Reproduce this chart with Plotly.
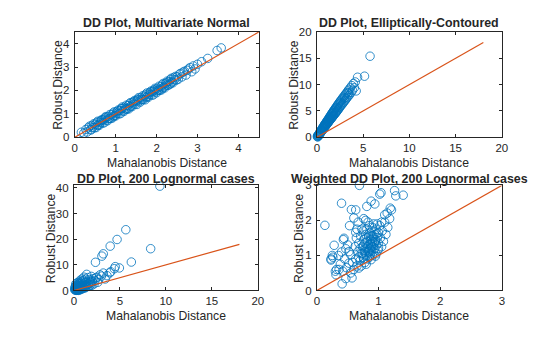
import plotly.graph_objects as go

# ---- Multivariate normal sample: Mahalanobis vs robust distance ----
md1 = [0.16, 0.22, 0.27, 0.30, 0.33, 0.36, 0.38, 0.40, 0.42, 0.44,
       0.46, 0.48, 0.50, 0.52, 0.54, 0.56, 0.58, 0.60, 0.62, 0.64,
       0.66, 0.68, 0.70, 0.72, 0.74, 0.76, 0.78, 0.80, 0.82, 0.84,
       0.86, 0.88, 0.90, 0.92, 0.94, 0.96, 0.98, 1.00, 1.02, 1.04,
       1.06, 1.08, 1.10, 1.12, 1.14, 1.16, 1.18, 1.20, 1.22, 1.24,
       1.26, 1.28, 1.30, 1.32, 1.34, 1.36, 1.38, 1.40, 1.42, 1.44,
       1.46, 1.48, 1.50, 1.52, 1.54, 1.56, 1.58, 1.60, 1.62, 1.64,
       1.66, 1.68, 1.70, 1.72, 1.74, 1.76, 1.78, 1.80, 1.82, 1.84,
       1.86, 1.88, 1.90, 1.92, 1.94, 1.96, 1.98, 2.00, 2.02, 2.04,
       2.06, 2.08, 2.10, 2.12, 2.14, 2.16, 2.18, 2.20, 2.22, 2.24,
       2.26, 2.28, 2.30, 2.32, 2.34, 2.36, 2.38, 2.40, 2.42, 2.44,
       2.46, 2.48, 2.50, 2.53, 2.56, 2.59, 2.62, 2.65, 2.68, 2.72,
       2.75, 2.78, 2.82, 2.86, 2.90, 2.94, 3.00, 3.10, 3.25, 3.48,
       3.58, 0.55, 0.75, 0.95, 1.15, 1.35, 1.55, 1.75, 1.95, 2.15,
       2.35, 0.65, 0.85, 1.05, 1.25, 1.45, 1.65, 1.85, 2.05, 2.25]
rd1 = [0.21, 0.17, 0.33, 0.22, 0.40, 0.47, 0.32, 0.31, 0.50, 0.41,
       0.57, 0.40, 0.55, 0.41, 0.63, 0.68, 0.53, 0.51, 0.69, 0.62,
       0.75, 0.60, 0.74, 0.62, 0.84, 0.88, 0.73, 0.70, 0.89, 0.81,
       0.97, 0.80, 0.95, 0.82, 1.03, 1.08, 0.93, 0.91, 1.08, 1.02,
       1.16, 1.00, 1.14, 1.01, 1.23, 1.29, 1.13, 1.10, 1.29, 1.22,
       1.37, 1.20, 1.35, 1.21, 1.43, 1.48, 1.34, 1.31, 1.50, 1.42,
       1.57, 1.41, 1.54, 1.40, 1.63, 1.69, 1.55, 1.50, 1.70, 1.63,
       1.77, 1.61, 1.75, 1.60, 1.83, 1.89, 1.75, 1.71, 1.89, 1.82,
       1.97, 1.80, 1.95, 1.81, 2.03, 2.09, 1.94, 1.90, 2.10, 2.03,
       2.18, 2.01, 2.15, 2.02, 2.24, 2.30, 2.15, 2.11, 2.31, 2.23,
       2.40, 2.22, 2.38, 2.25, 2.47, 2.52, 2.37, 2.33, 2.55, 2.46,
       2.60, 2.44, 2.58, 2.48, 2.70, 2.73, 2.58, 2.78, 2.82, 2.66,
       2.86, 2.92, 2.98, 2.80, 3.05, 2.92, 3.12, 3.23, 3.37, 3.71,
       3.82, 0.50, 0.81, 0.90, 1.22, 1.30, 1.60, 1.71, 2.00, 2.10,
       2.30, 0.71, 0.80, 1.12, 1.20, 1.52, 1.60, 1.93, 2.00, 2.33]

# ---- Elliptically-contoured sample ----
md2 = [0.05, 0.08, 0.10, 0.12, 0.15, 0.18, 0.20, 0.22, 0.25, 0.28,
       0.30, 0.32, 0.35, 0.38, 0.40, 0.42, 0.45, 0.48, 0.50, 0.52,
       0.55, 0.58, 0.60, 0.62, 0.65, 0.68, 0.70, 0.72, 0.75, 0.78,
       0.80, 0.82, 0.85, 0.88, 0.90, 0.92, 0.95, 0.98, 1.00, 1.02,
       1.05, 1.08, 1.10, 1.12, 1.15, 1.18, 1.20, 1.22, 1.25, 1.28,
       1.30, 1.32, 1.35, 1.38, 1.40, 1.42, 1.45, 1.48, 1.50, 1.52,
       1.55, 1.58, 1.60, 1.62, 1.65, 1.68, 1.70, 1.72, 1.75, 1.78,
       1.80, 1.83, 1.86, 1.90, 1.93, 1.96, 2.00, 2.03, 2.06, 2.10,
       2.13, 2.16, 2.20, 2.24, 2.28, 2.32, 2.36, 2.40, 2.44, 2.48,
       2.52, 2.56, 2.60, 2.65, 2.70, 2.75, 2.80, 2.85, 2.90, 2.95,
       3.00, 3.05, 3.10, 3.15, 3.20, 3.25, 3.30, 3.36, 3.42, 3.48,
       3.55, 3.62, 3.70, 3.78, 3.85, 3.95, 4.05, 4.15, 4.25, 4.40,
       5.15, 5.75, 1.00, 1.40, 1.80, 2.20, 2.60, 3.00, 3.40, 0.70]
rd2 = [0.10, 0.25, 0.05, 0.35, 0.20, 0.45, 0.30, 0.60, 0.40, 0.75,
       0.55, 0.90, 0.70, 1.05, 0.85, 1.20, 0.95, 1.35, 1.10, 1.45,
       1.20, 1.65, 1.30, 1.75, 1.45, 1.90, 1.55, 2.05, 1.70, 2.15,
       1.80, 2.35, 1.95, 2.45, 2.05, 2.60, 2.15, 2.70, 2.30, 2.85,
       2.40, 3.00, 2.50, 3.10, 2.60, 3.25, 2.75, 3.40, 2.85, 3.50,
       3.00, 3.65, 3.10, 3.80, 3.20, 3.95, 3.35, 4.05, 3.45, 4.20,
       3.55, 4.35, 3.65, 4.50, 3.80, 4.60, 3.90, 4.75, 4.00, 4.90,
       4.10, 5.05, 4.25, 5.20, 4.40, 5.40, 4.55, 5.55, 4.70, 5.70,
       4.85, 5.90, 5.00, 6.10, 5.20, 6.30, 5.40, 6.50, 5.60, 6.70,
       5.80, 6.90, 6.00, 7.10, 6.20, 7.35, 6.40, 7.60, 6.65, 7.80,
       6.90, 8.05, 7.10, 8.30, 7.35, 8.50, 7.60, 8.80, 7.85, 9.10,
       8.10, 9.40, 8.50, 9.80, 8.90, 10.20, 9.40, 10.50, 8.80, 11.40,
       11.60, 15.40, 2.55, 3.55, 4.60, 5.55, 6.50, 7.50, 8.40, 1.80]

# ---- 200 lognormal cases ----
md3 = [9.35, 5.65, 4.70, 3.95, 3.20, 3.05, 2.35, 8.35, 6.25, 4.95,
       4.50, 4.40, 4.00, 3.90, 3.20, 3.60, 3.40, 3.00, 2.70, 2.60,
       2.50, 2.30, 2.20, 2.10, 2.00, 1.90, 1.80, 1.80, 1.70, 1.60,
       1.50, 1.50, 1.40, 1.40, 1.30, 1.30, 1.25, 1.20, 1.10, 1.10,
       1.00, 1.00, 0.95, 0.90, 0.90, 0.85, 0.80, 0.80, 0.75, 0.70,
       0.70, 0.65, 0.65, 0.60, 0.60, 0.55, 0.55, 0.50, 0.50, 0.45,
       0.45, 0.40, 0.40, 0.35, 0.35, 0.30, 0.30, 0.25, 0.25, 0.20,
       0.20, 0.15, 0.15, 0.10, 0.10, 0.30, 0.45, 0.60, 0.75, 0.90,
       1.05, 1.20, 1.35, 1.55, 1.75, 2.00, 2.40, 2.85, 0.50, 0.70,
       0.35, 0.20, 1.15, 0.85, 0.25, 0.55, 1.65, 1.95]
rd3 = [40.70, 23.70, 19.90, 17.30, 14.30, 13.40, 11.00, 16.30, 11.10, 8.80,
       9.30, 8.50, 7.30, 6.90, 6.80, 5.80, 4.50, 5.60, 4.30, 3.20,
       5.20, 3.80, 2.60, 4.60, 3.40, 5.50, 3.00, 2.10, 4.20, 2.60,
       5.00, 1.60, 6.30, 3.50, 2.20, 1.20, 4.40, 3.00, 5.20, 1.90,
       3.80, 2.50, 1.50, 4.50, 3.00, 2.00, 1.20, 3.50, 2.60, 1.60,
       4.00, 0.90, 2.90, 2.10, 1.30, 3.30, 0.70, 1.80, 2.60, 1.10,
       0.40, 2.20, 1.50, 0.80, 3.00, 1.20, 0.30, 1.90, 0.60, 1.00,
       2.50, 0.40, 1.50, 0.20, 0.90, 0.10, 0.20, 0.50, 0.80, 0.60,
       1.10, 1.50, 1.90, 2.40, 3.30, 3.70, 4.90, 6.10, 0.05, 0.30,
       0.15, 0.35, 0.90, 0.70, 0.05, 0.25, 1.60, 2.00]

# ---- Weighted distances, 200 lognormal cases ----
md4 = [0.69, 0.13, 0.40, 0.56, 0.63, 0.60, 0.76, 0.81, 0.88, 0.94,
       1.02, 1.04, 1.26, 1.28, 1.40, 1.19, 1.21, 1.14, 1.10, 1.05,
       0.63, 0.44, 0.28, 0.23, 0.25, 0.31, 0.41, 0.57, 0.52, 0.47,
       0.68, 0.53, 0.30, 0.47, 0.32, 0.55, 0.52, 0.43, 0.23, 0.35,
       0.70, 0.72, 0.74, 0.75, 0.76, 0.77, 0.78, 0.78, 0.79, 0.80,
       0.80, 0.81, 0.82, 0.82, 0.83, 0.84, 0.84, 0.85, 0.85, 0.86,
       0.86, 0.87, 0.87, 0.88, 0.88, 0.89, 0.89, 0.90, 0.90, 0.91,
       0.91, 0.92, 0.92, 0.93, 0.94, 0.94, 0.95, 0.96, 0.96, 0.97,
       0.98, 0.99, 1.00, 1.00, 1.02, 1.03, 1.05, 1.06, 1.08, 1.10,
       1.12, 1.15, 0.66, 0.65, 0.68, 0.68, 0.71, 0.72, 0.73, 0.74,
       0.63, 0.62, 0.60, 0.58, 0.64, 0.67, 0.70, 0.76, 0.80, 0.83,
       0.86, 0.90, 0.95, 0.98, 1.00, 0.78, 0.82, 0.87, 0.92, 0.76,
       0.80, 0.85, 0.89, 0.94, 0.97, 0.75, 0.79, 0.84, 0.88, 0.38,
       0.42, 0.45, 0.48, 0.50, 0.55, 0.36, 0.40, 0.26, 0.65, 1.18]
rd4 = [3.00, 1.86, 2.49, 2.31, 2.30, 2.07, 2.05, 2.40, 2.55, 2.47,
       2.75, 2.79, 2.85, 2.70, 2.72, 2.35, 2.30, 2.21, 2.16, 1.95,
       1.66, 1.49, 1.29, 0.87, 1.00, 0.45, 0.19, 0.36, 0.78, 1.19,
       0.64, 1.85, 0.55, 0.34, 0.60, 1.02, 1.11, 1.45, 0.90, 1.00,
       0.85, 1.05, 1.25, 0.95, 1.45, 1.15, 0.80, 1.35, 1.60, 1.00,
       1.20, 1.75, 0.90, 1.40, 1.10, 1.55, 1.30, 0.95, 1.85, 1.20,
       1.65, 1.05, 1.45, 1.30, 0.88, 1.15, 1.70, 1.00, 1.40, 1.25,
       1.55, 1.10, 1.90, 1.35, 1.60, 1.20, 1.45, 1.05, 1.75, 1.30,
       1.50, 1.15, 1.65, 1.35, 1.85, 1.50, 1.25, 1.70, 1.40, 1.95,
       1.60, 1.80, 1.10, 0.70, 1.35, 0.95, 1.55, 0.70, 1.75, 1.05,
       0.90, 1.25, 0.60, 0.80, 1.50, 1.95, 1.20, 0.90, 1.50, 1.95,
       1.00, 1.80, 0.98, 1.90, 1.20, 1.10, 1.25, 1.35, 1.50, 1.30,
       0.75, 1.10, 1.25, 1.40, 1.62, 1.70, 2.00, 1.15, 1.55, 0.75,
       0.55, 0.90, 0.65, 1.30, 0.50, 0.60, 1.10, 0.95, 1.75, 2.05]

titles = ["DD Plot, Multivariate Normal",
          "DD Plot, Elliptically-Contoured",
          "DD Plot, 200 Lognormal cases",
          "Weighted DD Plot, 200 Lognormal cases"]
x_label = "Mahalanobis Distance"
y_label = "Robust Distance"

# identity reference line end point and axis limits per panel
ref_end = [4.5, 18, 18, 3]
x_max = [4.5, 20, 20, 3]
y_max = [4.5, 20, 41, 3]
x_ticks = [[0, 1, 2, 3, 4], [0, 5, 10, 15, 20], [0, 5, 10, 15, 20], [0, 1, 2, 3]]
y_ticks = [[0, 1, 2, 3, 4], [0, 5, 10, 15, 20], [0, 10, 20, 30, 40], [0, 1, 2, 3]]

series = [(md1, rd1), (md2, rd2), (md3, rd3), (md4, rd4)]

W, H = 560, 337
FONT = "Liberation Sans, Arial, Helvetica, sans-serif"
TXT = "#262626"
BLUE = "#0072BD"
ORANGE = "#D95319"

# axes boxes in pixels: (left, right, top, bottom)
boxes = [(73, 260, 27, 136), (319, 507, 27, 136),
         (72, 259, 186, 295), (319, 507, 186, 295)]
title_y = [18, 18, 179, 179]
xlab_y = [162.5, 162.5, 321.5, 321.5]
ylab_x = [55, 295, 49, 301]

fig = go.Figure()
layout = dict(width=W, height=H, autosize=False,
              margin=dict(l=0, r=0, t=0, b=0, pad=0),
              paper_bgcolor="white", plot_bgcolor="white",
              showlegend=False, font=dict(family=FONT, color=TXT, size=11))
annotations = []

for i, ((mx, ry), box) in enumerate(zip(series, boxes)):
    k = "" if i == 0 else str(i + 1)
    left, right, top, bottom = box
    fig.add_trace(go.Scatter(
        x=mx, y=ry, mode="markers", xaxis="x" + k, yaxis="y" + k,
        cliponaxis=False,
        marker=dict(symbol="circle-open", size=8.5, color=BLUE,
                    line=dict(width=0.8, color=BLUE))))
    fig.add_trace(go.Scatter(
        x=[0, ref_end[i]], y=[0, ref_end[i]], mode="lines",
        xaxis="x" + k, yaxis="y" + k, cliponaxis=False,
        line=dict(color=ORANGE, width=1.2)))
    axis_common = dict(showgrid=False, zeroline=False, showline=True,
                       linecolor=TXT, linewidth=1, mirror="ticks",
                       ticks="inside", ticklen=3, tickwidth=1, tickcolor=TXT,
                       tickfont=dict(family=FONT, size=11.5, color=TXT))
    layout["xaxis" + k] = dict(axis_common,
                               domain=[left / W, right / W],
                               range=[0, x_max[i]], tickvals=x_ticks[i],
                               anchor="y" + k)
    layout["yaxis" + k] = dict(axis_common,
                               domain=[1 - bottom / H, 1 - top / H],
                               range=[0, y_max[i]], tickvals=y_ticks[i],
                               ticklabelstandoff=2,
                               anchor="x" + k)
    cx = (left + right) / 2 / W
    annotations.append(dict(text="<b>%s</b>" % titles[i], x=cx, y=1 - title_y[i] / H,
                            xref="paper", yref="paper", xanchor="center",
                            yanchor="middle", showarrow=False,
                            font=dict(family=FONT, size=12.4, color=TXT)))
    annotations.append(dict(text=x_label, x=cx, y=1 - xlab_y[i] / H,
                            xref="paper", yref="paper", xanchor="center",
                            yanchor="middle", showarrow=False,
                            font=dict(family=FONT, size=12.2, color=TXT)))
    annotations.append(dict(text=y_label, x=ylab_x[i] / W,
                            y=1 - (top + bottom) / 2 / H,
                            xref="paper", yref="paper", xanchor="center",
                            yanchor="middle", textangle=-90, showarrow=False,
                            font=dict(family=FONT, size=12.2, color=TXT)))

layout["annotations"] = annotations
fig.update_layout(**layout)
fig.write_html("out.html")
